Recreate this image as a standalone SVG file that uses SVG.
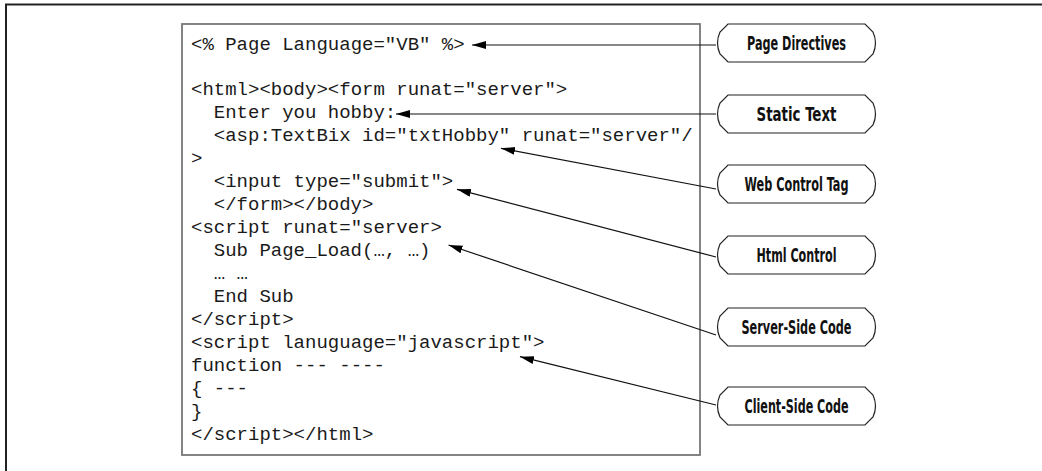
<svg xmlns="http://www.w3.org/2000/svg" width="1042" height="471" viewBox="0 0 1042 471">
<style>
.code{font-family:"Liberation Mono","Courier New",monospace;font-size:19px;fill:#1a1a1a}
.node text{font-family:"Liberation Sans Narrow","DejaVu Sans Condensed","Liberation Sans",sans-serif;font-weight:bold;font-size:20px;fill:#111;text-anchor:middle}
.conn line{stroke:#111;stroke-width:1.2;marker-end:url(#ah)}
</style>
<defs>
<marker id="ah" markerUnits="userSpaceOnUse" markerWidth="15" markerHeight="9" refX="14" refY="4" orient="auto">
<path d="M0,0 L14,4 L0,8 Z" fill="#000"/>
</marker>
<path id="shape" d="M12,0 H149 L157,8 Q162,19 157,30 L149,38 H12 L4,30 Q-1,19 4,8 Z"/>
</defs>
<rect width="1042" height="471" fill="#fff"/>
<path d="M6,471 V4.5 H1042" fill="none" stroke="#222" stroke-width="2"/>
<rect id="codebox" x="182" y="24" width="518" height="431" fill="#fff" stroke="#777" stroke-width="1.8"/>
<g id="code" class="code">
<text x="191" y="49.5">&lt;% Page Language="VB" %&gt;</text>
<text x="191" y="95.4">&lt;html&gt;&lt;body&gt;&lt;form runat="server"&gt;</text>
<text x="213.8" y="118.4">Enter you hobby:</text>
<text x="213.8" y="141.3">&lt;asp:TextBix id="txtHobby" runat="server"/</text>
<text x="191" y="164.3">&gt;</text>
<text x="213.8" y="187.2">&lt;input type="submit"&gt;</text>
<text x="213.8" y="210.2">&lt;/form&gt;&lt;/body&gt;</text>
<text x="191" y="233.1">&lt;script runat="server&gt;</text>
<text x="213.8" y="256.1">Sub Page_Load(…, …)</text>
<text x="213.8" y="279">… …</text>
<text x="213.8" y="302">End Sub</text>
<text x="191" y="324.9">&lt;/script&gt;</text>
<text x="191" y="347.9">&lt;script lanuguage="javascript"&gt;</text>
<text x="191" y="370.8">function --- ----</text>
<text x="191" y="393.8">{ ---</text>
<text x="191" y="416.7">}</text>
<text x="191" y="439.7">&lt;/script&gt;&lt;/html&gt;</text>
</g>
<g id="connectors" class="conn">
<line x1="716" y1="45" x2="472" y2="45"/>
<line x1="716" y1="114" x2="396" y2="114"/>
<line x1="716" y1="189" x2="501" y2="148.3"/>
<line x1="716" y1="257" x2="457" y2="189.3"/>
<line x1="716" y1="335" x2="448.5" y2="245"/>
<line x1="716" y1="405" x2="520" y2="356.7"/>
</g>
<g id="node-page-directives" class="node" transform="translate(716,24)">
<use href="#shape" fill="#fff" stroke="#222" stroke-width="1.2"/>
<text x="80.5" y="26" textLength="99" lengthAdjust="spacingAndGlyphs">Page Directives</text>
</g>
<g id="node-static-text" class="node" transform="translate(716,95)">
<use href="#shape" fill="#fff" stroke="#222" stroke-width="1.2"/>
<text x="80.5" y="26" textLength="80" lengthAdjust="spacingAndGlyphs">Static Text</text>
</g>
<g id="node-web-control-tag" class="node" transform="translate(716,165)">
<use href="#shape" fill="#fff" stroke="#222" stroke-width="1.2"/>
<text x="80.5" y="26" textLength="104" lengthAdjust="spacingAndGlyphs">Web Control Tag</text>
</g>
<g id="node-html-control" class="node" transform="translate(716,236)">
<use href="#shape" fill="#fff" stroke="#222" stroke-width="1.2"/>
<text x="80.5" y="26" textLength="80" lengthAdjust="spacingAndGlyphs">Html Control</text>
</g>
<g id="node-server-side-code" class="node" transform="translate(716,308)">
<use href="#shape" fill="#fff" stroke="#222" stroke-width="1.2"/>
<text x="80.5" y="26" textLength="110" lengthAdjust="spacingAndGlyphs">Server-Side Code</text>
</g>
<g id="node-client-side-code" class="node" transform="translate(716,387)">
<use href="#shape" fill="#fff" stroke="#222" stroke-width="1.2"/>
<text x="80.5" y="26" textLength="104" lengthAdjust="spacingAndGlyphs">Client-Side Code</text>
</g>
</svg>
